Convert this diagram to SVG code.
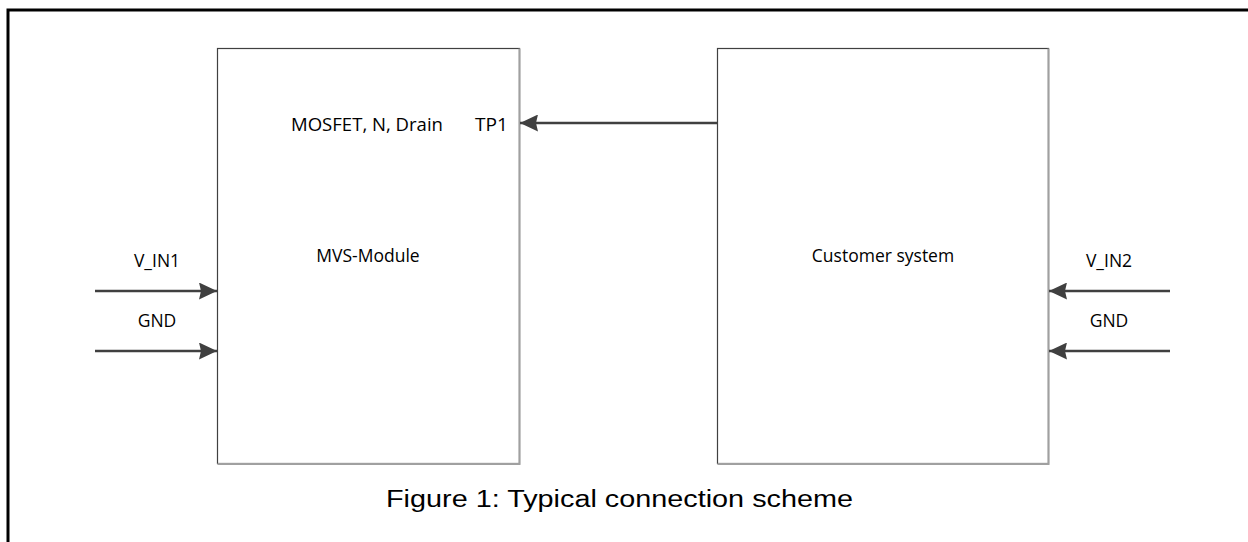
<svg xmlns="http://www.w3.org/2000/svg" width="1248" height="542" viewBox="0 0 1248 542">
<style>
.box{fill:#fff;stroke:#404040;stroke-width:1.2}
.sh{stroke:#a0a0a0;stroke-width:2;fill:none}
.t{font-family:"Open Sans","Noto Sans",sans-serif;font-size:17.5px;fill:#000}
.cap{font-family:"Liberation Sans",Arial,sans-serif;font-size:23px;fill:#000}
.c{stroke:#404040;stroke-width:2.6;fill:none}
</style>
<defs>
<marker id="ah" markerUnits="userSpaceOnUse" viewBox="0 0 18 17" markerWidth="18" markerHeight="17" refX="18" refY="8.5" orient="auto">
<path d="M0,0 L18,8.5 L0,17 L2,8.5 Z" fill="#404040"/>
</marker>
</defs>
<rect width="1248" height="542" fill="#fff"/>
<g id="frame">
<path d="M8,542 V10 H1248" fill="none" stroke="#000" stroke-width="3"/>
</g>
<g id="mvs">
<rect class="box" x="217.5" y="48.5" width="302" height="415"/>
<path class="sh" d="M519.5,48.5 V464 H217.5"/>
<text class="t" x="291" y="131" textLength="152" lengthAdjust="spacingAndGlyphs">MOSFET, N, Drain</text>
<text class="t" x="475" y="131" textLength="33" lengthAdjust="spacingAndGlyphs">TP1</text>
<text class="t" x="368" y="262" text-anchor="middle">MVS-Module</text>
</g>
<g id="customer">
<rect class="box" x="717.5" y="48.5" width="331" height="415"/>
<path class="sh" d="M1048.5,48.5 V464 H717.5"/>
<text class="t" x="883" y="262" text-anchor="middle">Customer system</text>
</g>
<g id="labels">
<text class="t" x="157" y="267" text-anchor="middle">V_IN1</text>
<text class="t" x="157" y="327" text-anchor="middle">GND</text>
<text class="t" x="1109" y="267" text-anchor="middle">V_IN2</text>
<text class="t" x="1109" y="327" text-anchor="middle">GND</text>
</g>
<g id="connectors">
<line class="c" x1="95" y1="291" x2="217" y2="291" marker-end="url(#ah)"/>
<line class="c" x1="95" y1="351" x2="217" y2="351" marker-end="url(#ah)"/>
<line class="c" x1="1170" y1="291" x2="1049" y2="291" marker-end="url(#ah)"/>
<line class="c" x1="1170" y1="351" x2="1049" y2="351" marker-end="url(#ah)"/>
<line class="c" x1="717" y1="123" x2="520" y2="123" marker-end="url(#ah)"/>
</g>
<g id="caption">
<text class="cap" x="386" y="507" textLength="467" lengthAdjust="spacingAndGlyphs">Figure 1: Typical connection scheme</text>
</g>
</svg>
